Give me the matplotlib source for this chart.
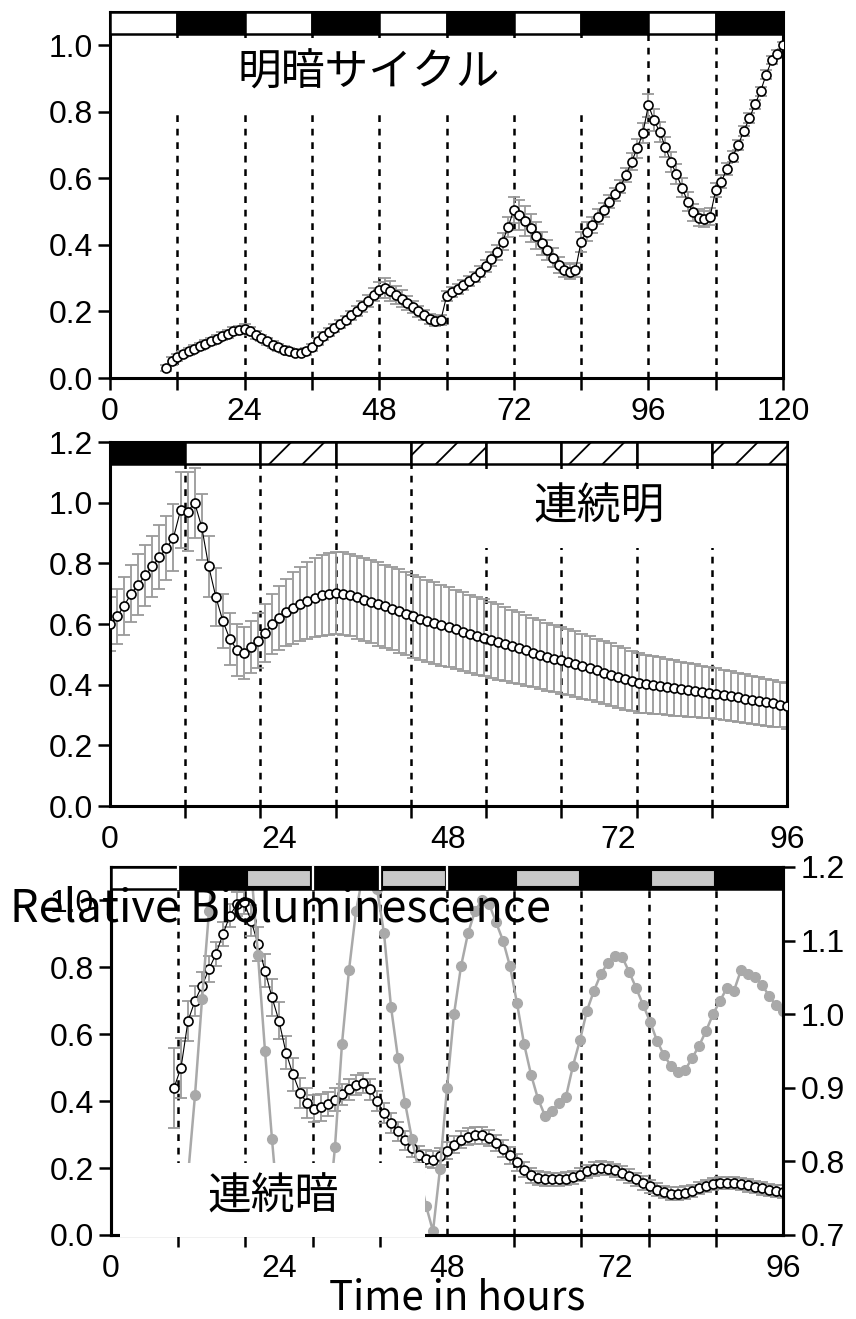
import numpy as np
import matplotlib
matplotlib.use("Agg")
import matplotlib.pyplot as plt
from matplotlib.patches import Rectangle
from matplotlib.transforms import blended_transform_factory
from matplotlib.ticker import FormatStrFormatter

plt.rcParams['font.family'] = ['Liberation Sans', 'DejaVu Sans']
plt.rcParams['hatch.linewidth'] = 1.3

# ---------------- data ----------------
# Panel 1: light/dark cycle (hours 10..120)
top_t = list(range(10, 121))
top_v = [0.030, 0.050, 0.062, 0.072, 0.080, 0.088, 0.095, 0.103, 0.110, 0.118,
         0.125, 0.133, 0.140, 0.145, 0.148, 0.140, 0.130, 0.120, 0.110, 0.100,
         0.092, 0.085, 0.080, 0.076, 0.075, 0.080, 0.092, 0.110, 0.125, 0.138,
         0.150, 0.162, 0.175, 0.188, 0.200, 0.215, 0.232, 0.250, 0.265, 0.270,
         0.262, 0.250, 0.238, 0.225, 0.212, 0.200, 0.188, 0.178, 0.172, 0.175,
         0.245, 0.258, 0.268, 0.280, 0.292, 0.305, 0.320, 0.338, 0.358, 0.378,
         0.410, 0.455, 0.505, 0.490, 0.472, 0.450, 0.428, 0.405, 0.385, 0.362,
         0.340, 0.325, 0.320, 0.325, 0.410, 0.440, 0.460, 0.485, 0.505, 0.530,
         0.552, 0.575, 0.610, 0.650, 0.690, 0.735, 0.820, 0.775, 0.740, 0.695,
         0.650, 0.612, 0.572, 0.530, 0.498, 0.482, 0.478, 0.485, 0.565, 0.590,
         0.628, 0.665, 0.700, 0.742, 0.780, 0.822, 0.862, 0.912, 0.955, 0.975,
         1.000]
top_e = [0.010, 0.012, 0.010, 0.010, 0.010, 0.010, 0.010, 0.010, 0.010, 0.010,
         0.012, 0.012, 0.012, 0.012, 0.014, 0.012, 0.012, 0.010, 0.010, 0.010,
         0.010, 0.010, 0.010, 0.010, 0.010, 0.010, 0.010, 0.010, 0.012, 0.012,
         0.012, 0.012, 0.012, 0.014, 0.015, 0.016, 0.018, 0.020, 0.025, 0.030,
         0.030, 0.028, 0.025, 0.020, 0.018, 0.016, 0.015, 0.015, 0.015, 0.015,
         0.015, 0.015, 0.015, 0.015, 0.015, 0.015, 0.016, 0.018, 0.020, 0.022,
         0.025, 0.030, 0.040, 0.045, 0.045, 0.042, 0.040, 0.035, 0.030, 0.028,
         0.025, 0.022, 0.022, 0.022, 0.030, 0.028, 0.025, 0.022, 0.020, 0.020,
         0.020, 0.020, 0.022, 0.025, 0.028, 0.030, 0.035, 0.032, 0.030, 0.030,
         0.030, 0.030, 0.028, 0.028, 0.026, 0.025, 0.025, 0.025, 0.022, 0.020,
         0.018, 0.016, 0.015, 0.015, 0.015, 0.015, 0.014, 0.014, 0.012, 0.012,
         0.010]

# Panel 2: constant light (hours 0..96)
mid_t = list(range(0, 97))
mid_v = [0.600, 0.625, 0.660, 0.700, 0.730, 0.760, 0.790, 0.820, 0.850, 0.885,
         0.975, 0.970, 1.000, 0.920, 0.790, 0.690, 0.610, 0.550, 0.515, 0.505,
         0.525, 0.545, 0.570, 0.600, 0.620, 0.638, 0.652, 0.665, 0.677, 0.687,
         0.695, 0.700, 0.703, 0.700, 0.695, 0.688, 0.680, 0.673, 0.666, 0.659,
         0.651, 0.643, 0.634, 0.625, 0.618, 0.610, 0.603, 0.596, 0.589, 0.582,
         0.575, 0.568, 0.561, 0.555, 0.548, 0.541, 0.534, 0.527, 0.520, 0.513,
         0.506, 0.499, 0.492, 0.486, 0.480, 0.474, 0.468, 0.461, 0.454, 0.447,
         0.440, 0.433, 0.426, 0.419, 0.412, 0.406, 0.402, 0.399, 0.396, 0.392,
         0.389, 0.386, 0.383, 0.380, 0.377, 0.374, 0.370, 0.366, 0.362, 0.358,
         0.354, 0.350, 0.346, 0.342, 0.338, 0.334, 0.330]
mid_e = [0.090, 0.090, 0.095, 0.095, 0.100, 0.100, 0.100, 0.105, 0.105, 0.110,
         0.125, 0.130, 0.115, 0.110, 0.100, 0.095, 0.090, 0.085, 0.085, 0.085,
         0.085, 0.090, 0.095, 0.100, 0.105, 0.110, 0.118, 0.122, 0.126, 0.130,
         0.133, 0.135, 0.135, 0.136, 0.136, 0.137, 0.137, 0.137, 0.137, 0.137,
         0.137, 0.137, 0.137, 0.137, 0.136, 0.135, 0.134, 0.133, 0.132, 0.131,
         0.130, 0.129, 0.128, 0.127, 0.126, 0.124, 0.122, 0.120, 0.118, 0.116,
         0.115, 0.114, 0.112, 0.111, 0.110, 0.109, 0.108, 0.107, 0.106, 0.105,
         0.104, 0.103, 0.102, 0.101, 0.100, 0.099, 0.097, 0.095, 0.094, 0.092,
         0.091, 0.090, 0.088, 0.087, 0.086, 0.085, 0.084, 0.083, 0.082, 0.081,
         0.080, 0.079, 0.078, 0.077, 0.076, 0.075, 0.075]

# Panel 3: constant dark (hours 9..96)
bot_t = list(range(9, 97))
bot_a = [0.440, 0.500, 0.640, 0.700, 0.745, 0.795, 0.840, 0.900, 0.955, 0.990,
         0.995, 0.940, 0.870, 0.790, 0.710, 0.640, 0.545, 0.480, 0.425, 0.395,
         0.378, 0.382, 0.392, 0.405, 0.420, 0.435, 0.448, 0.455, 0.435, 0.400,
         0.365, 0.335, 0.310, 0.283, 0.260, 0.240, 0.228, 0.225, 0.235, 0.252,
         0.270, 0.285, 0.294, 0.298, 0.298, 0.290, 0.275, 0.258, 0.238, 0.217,
         0.195, 0.178, 0.170, 0.167, 0.166, 0.166, 0.168, 0.172, 0.180, 0.190,
         0.197, 0.200, 0.198, 0.193, 0.185, 0.176, 0.166, 0.155, 0.145, 0.136,
         0.128, 0.124, 0.124, 0.127, 0.132, 0.140, 0.147, 0.152, 0.155, 0.156,
         0.155, 0.152, 0.148, 0.143, 0.139, 0.135, 0.132, 0.130]
bot_ae = [0.120, 0.090, 0.060, 0.045, 0.040, 0.040, 0.035, 0.035, 0.035, 0.035,
          0.035, 0.045, 0.050, 0.050, 0.055, 0.055, 0.050, 0.050, 0.045, 0.045,
          0.040, 0.040, 0.035, 0.035, 0.030, 0.030, 0.030, 0.030, 0.030, 0.030,
          0.030, 0.030, 0.028, 0.028, 0.026, 0.026, 0.025, 0.025, 0.025, 0.025,
          0.025, 0.025, 0.025, 0.025, 0.025, 0.025, 0.025, 0.025, 0.025, 0.025,
          0.022, 0.022, 0.022, 0.020, 0.020, 0.020, 0.020, 0.020, 0.020, 0.020,
          0.020, 0.020, 0.020, 0.020, 0.020, 0.020, 0.020, 0.020, 0.020, 0.018,
          0.018, 0.018, 0.018, 0.018, 0.018, 0.018, 0.018, 0.018, 0.018, 0.018,
          0.018, 0.018, 0.018, 0.018, 0.018, 0.018, 0.018, 0.018]
bot_b = [0.560, 0.660, 0.780, 0.890, 1.020, 1.140, 1.240, 1.310, 1.350, 1.350,
         1.300, 1.200, 1.080, 0.950, 0.830, 0.720, 0.630, 0.570, 0.540, 0.540,
         0.570, 0.630, 0.720, 0.820, 0.960, 1.060, 1.140, 1.190, 1.205, 1.170,
         1.110, 1.010, 0.940, 0.880, 0.830, 0.785, 0.740, 0.705, 0.790, 0.900,
         1.000, 1.065, 1.110, 1.140, 1.155, 1.150, 1.125, 1.100, 1.065, 1.015,
         0.960, 0.918, 0.885, 0.862, 0.868, 0.880, 0.888, 0.930, 0.965, 1.005,
         1.032, 1.055, 1.070, 1.079, 1.078, 1.058, 1.036, 1.013, 0.990, 0.964,
         0.944, 0.930, 0.921, 0.924, 0.940, 0.957, 0.977, 1.000, 1.018, 1.036,
         1.032, 1.060, 1.054, 1.050, 1.040, 1.025, 1.012, 1.004]

# light/dark condition bars
top_bar_edges = [0, 12, 24, 36, 48, 60, 72, 84, 96, 108, 120]
top_bar_fills = ['white', 'black'] * 5
mid_bar_edges = [k * 96 / 9 for k in range(10)]
mid_bar_fills = ['black', 'white', 'hatch', 'white', 'hatch', 'white', 'hatch', 'white', 'hatch']
bot_bar_edges = [0, 9.6, 19.2, 28.8, 38.4, 48, 57.6, 67.2, 76.8, 86.4, 96]
bot_bar_fills = ['white', 'black', 'gray', 'black', 'gray', 'black', 'gray', 'black', 'gray', 'black']
bot_bar_separators = [9.6, 28.8, 38.4, 48]

top_dash = [12, 24, 36, 48, 60, 72, 84, 96, 108]
mid_dash = [k * 96 / 9 for k in range(1, 9)]
bot_dash = [k * 9.6 for k in range(1, 10)]

top_xlabels = [0, 24, 48, 72, 96, 120]
mid_xlabels = [0, 24, 48, 72, 96]
bot_xlabels = [0, 24, 48, 72, 96]

# ---------------- figure ----------------
W, H = 856, 1319
fig = plt.figure(figsize=(W / 100, H / 100), dpi=100)


def rect_px(l, r, t, b):
    return [l / W, 1 - b / H, (r - l) / W, (b - t) / H]


ERR_GRAY = '#9a9a9a'
TICK_FS = 23
TICK_LEN = 8.5
SPINE_LW = 2.2


def style_axes(ax):
    for s in ax.spines.values():
        s.set_linewidth(SPINE_LW)
    ax.tick_params(axis='both', which='both', direction='out', width=1.8,
                   length=TICK_LEN, labelsize=TICK_FS, pad=4)
    ax.tick_params(axis='x', which='major', pad=5)
    ax.yaxis.set_major_formatter(FormatStrFormatter('%.1f'))


def draw_bar(ax, edges, fills):
    trans = blended_transform_factory(ax.transData, ax.transAxes)
    for a, b, f in zip(edges[:-1], edges[1:], fills):
        if f == 'hatch':
            r = Rectangle((a, 0.94), b - a, 0.06, transform=trans, facecolor='white',
                          edgecolor='black', lw=1.8, hatch='/', clip_on=False, zorder=10)
        elif f == 'gray':
            r0 = Rectangle((a, 0.94), b - a, 0.06, transform=trans, facecolor='black',
                           edgecolor='black', lw=1.8, clip_on=False, zorder=10)
            ax.add_patch(r0)
            r = Rectangle((a + 0.3, 0.948), b - a - 0.6, 0.044, transform=trans,
                          facecolor='#c8c8c8', edgecolor='black', lw=0.8,
                          clip_on=False, zorder=11)
        else:
            r = Rectangle((a, 0.94), b - a, 0.06, transform=trans, facecolor=f,
                          edgecolor='black', lw=1.8, clip_on=False, zorder=10)
        ax.add_patch(r)


def dashed(ax, xs):
    for x in xs:
        ax.axvline(x, ymin=0, ymax=0.94, color='black', lw=1.8,
                   linestyle=(0, (2.7, 2.7)), zorder=1)


def series(ax, t, v, e):
    ax.errorbar(t, v, yerr=e, fmt='none', ecolor=ERR_GRAY, elinewidth=1.3,
                capsize=4, capthick=1.3, zorder=2)
    ax.plot(t, v, '-o', color='black', lw=0.8, ms=6.5, mfc='white', mec='black',
            mew=1.2, zorder=3)


# ---- panel 1 ----
ax1 = fig.add_axes(rect_px(110, 783, 12, 378))
ax1.set_xlim(0, 120)
ax1.set_ylim(0, 1.1)
style_axes(ax1)
dashed(ax1, top_dash)
series(ax1, top_t, top_v, top_e)
ax1.set_xticks(top_xlabels)
ax1.set_xticks([12, 36, 60, 84, 108], minor=True)
ax1.set_yticks([0, 0.2, 0.4, 0.6, 0.8, 1.0])
draw_bar(ax1, top_bar_edges, top_bar_fills)

# ---- panel 2 ----
ax2 = fig.add_axes(rect_px(110, 787, 442, 806))
ax2.set_xlim(0, 96)
ax2.set_ylim(0, 1.2)
style_axes(ax2)
dashed(ax2, mid_dash)
series(ax2, mid_t, mid_v, mid_e)
ax2.set_xticks(mid_xlabels)
ax2.set_xticks(mid_bar_edges, minor=True)
ax2.tick_params(axis='x', which='major', length=0, pad=TICK_LEN + 5)
ax2.set_yticks([0, 0.2, 0.4, 0.6, 0.8, 1.0, 1.2])
draw_bar(ax2, mid_bar_edges, mid_bar_fills)

# ---- panel 3 ----
ax3 = fig.add_axes(rect_px(111, 783, 867, 1235))
ax3.set_xlim(0, 96)
ax3.set_ylim(0, 1.1)
style_axes(ax3)
dashed(ax3, bot_dash)
series(ax3, bot_t, bot_a, bot_ae)
ax3.set_xticks(bot_xlabels)
ax3.set_xticks([k * 9.6 for k in range(11)], minor=True)
ax3.tick_params(axis='x', which='major', length=0, pad=TICK_LEN + 5)
ax3.set_yticks([0, 0.2, 0.4, 0.6, 0.8, 1.0])

ax3b = ax3.twinx()
ax3b.set_ylim(0.7, 1.2)
for s in ax3b.spines.values():
    s.set_linewidth(SPINE_LW)
ax3b.tick_params(axis='y', direction='out', width=1.8, length=TICK_LEN,
                 labelsize=TICK_FS, pad=4)
ax3b.set_yticks([0.7, 0.8, 0.9, 1.0, 1.1, 1.2])
ax3b.yaxis.set_major_formatter(FormatStrFormatter('%.1f'))
ax3b.plot(bot_t, bot_b, '-o', color='#a9a9a9', lw=1.8, ms=7, mfc='#a9a9a9',
          mec='#a9a9a9', zorder=2)
draw_bar(ax3b, bot_bar_edges, bot_bar_fills)
sep_trans = blended_transform_factory(ax3b.transData, ax3b.transAxes)
for x in bot_bar_separators:
    ax3b.plot([x, x], [0.94, 1.0], color='white', lw=1.6, transform=sep_trans,
              clip_on=False, zorder=12)

# ---- overlaid white boxes and labels ----
for (l, r, t, b) in [(140, 615, 38, 110), (450, 775, 475, 548), (120, 425, 1163, 1237)]:
    fig.patches.append(Rectangle((l / W, 1 - b / H), (r - l) / W, (b - t) / H,
                                 transform=fig.transFigure, facecolor='white',
                                 edgecolor='none', zorder=1))

cjk = ['Noto Sans CJK JP', 'DejaVu Sans']
fig.text(369 / W, 1 - 73 / H, '明暗サイクル', family=cjk, fontsize=31.5,
         ha='center', va='center', zorder=5)
fig.text(599 / W, 1 - 507 / H, '連続明', family=cjk, fontsize=31.5,
         ha='center', va='center', zorder=5)
fig.text(273 / W, 1 - 1197 / H, '連続暗', family=cjk, fontsize=31.5,
         ha='center', va='center', zorder=5)
fig.text(10 / W, 1 - 921 / H, 'Relative Bioluminescence', family=cjk, fontsize=32.5,
         ha='left', va='baseline', zorder=5)
fig.text(457 / W, 1 - 1310 / H, 'Time in hours', family=cjk, fontsize=29,
         ha='center', va='baseline', zorder=5)

fig.savefig('out.png', dpi=100)
